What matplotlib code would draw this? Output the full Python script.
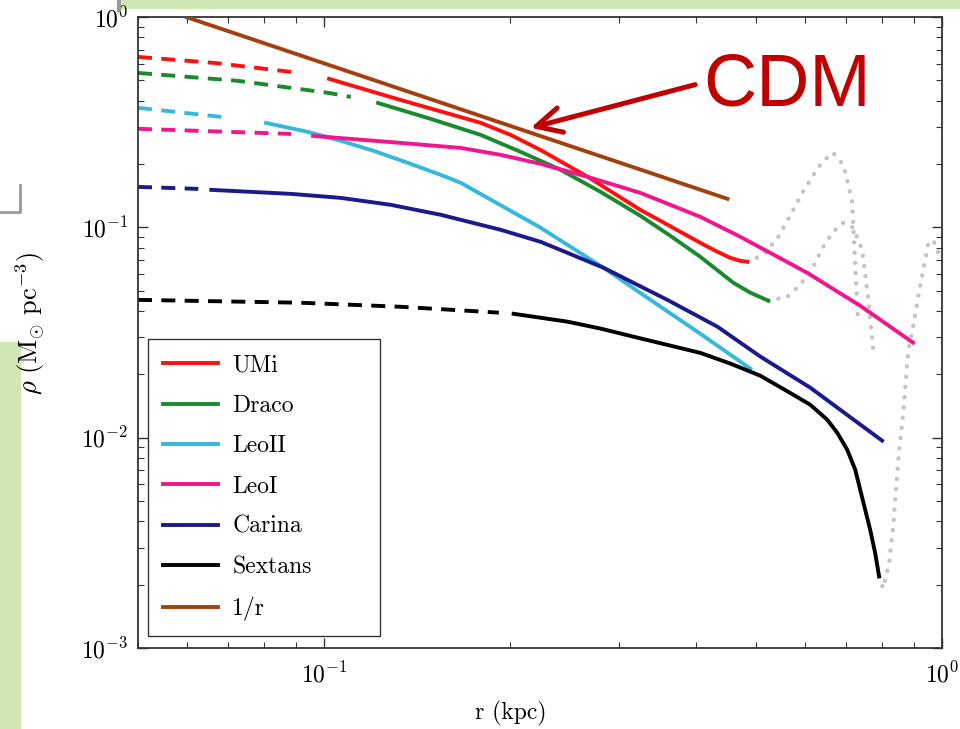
import matplotlib
matplotlib.use('Agg')
import matplotlib.pyplot as plt
from matplotlib.patches import Rectangle
from matplotlib.lines import Line2D
from matplotlib.ticker import NullFormatter

plt.rcParams['mathtext.fontset'] = 'cm'
plt.rcParams['font.family'] = ['cmr10', 'DejaVu Serif']
plt.rcParams['axes.formatter.use_mathtext'] = True

# --- dados (r em kpc, rho em Msun/pc^3) ---
umi_r_dash = [0.05, 0.0664, 0.0885]
umi_rho_dash = [0.646, 0.605, 0.548]
umi_r = [0.1019, 0.1331, 0.1793, 0.2005, 0.2242, 0.2670, 0.3251, 0.3503, 0.4064, 0.4300, 0.4545, 0.4718, 0.4842]
umi_rho = [0.508, 0.403, 0.314, 0.275, 0.233, 0.174, 0.121, 0.1074, 0.0844, 0.0773, 0.0716, 0.0693, 0.0686]

draco_r_dash = [0.05, 0.0726, 0.1015, 0.1105]
draco_rho_dash = [0.542, 0.497, 0.436, 0.417]
draco_r = [0.1223, 0.1489, 0.1793, 0.2081, 0.2415, 0.2803, 0.3251, 0.3635, 0.4064, 0.4596, 0.4896, 0.5235]
draco_rho = [0.390, 0.3276, 0.275, 0.2284, 0.1876, 0.1474, 0.1134, 0.0911, 0.0724, 0.0545, 0.0489, 0.0448]

leo2_r_dash = [0.05, 0.0682]
leo2_rho_dash = [0.370, 0.335]
leo2_r = [0.0806, 0.0942, 0.1065, 0.1204, 0.1367, 0.1545, 0.1665, 0.1840, 0.2242, 0.2834, 0.3375, 0.4064, 0.4896]
leo2_rho = [0.3136, 0.2842, 0.2576, 0.2309, 0.2025, 0.1776, 0.1627, 0.1380, 0.0995, 0.0642, 0.0452, 0.0312, 0.0213]

leo1_r_dash = [0.05, 0.0885]
leo1_rho_dash = [0.294, 0.278]
leo1_r = [0.0960, 0.1105, 0.1331, 0.1665, 0.1932, 0.2242, 0.2670, 0.3251, 0.4064, 0.4718, 0.5274, 0.6051, 0.7372, 0.8978]
leo1_rho = [0.272, 0.2633, 0.252, 0.2385, 0.2211, 0.2003, 0.1738, 0.1458, 0.1122, 0.0901, 0.0756, 0.0608, 0.0424, 0.0283]

carina_r_dash = [0.05, 0.0626]
carina_rho_dash = [0.1557, 0.1523]
carina_r = [0.0657, 0.0885, 0.1065, 0.1283, 0.1545, 0.1932, 0.2242, 0.2478, 0.2834, 0.3594, 0.4331, 0.5082, 0.6119, 0.6842, 0.8000]
carina_rho = [0.1507, 0.1442, 0.1380, 0.1279, 0.1147, 0.0973, 0.0853, 0.0756, 0.0642, 0.0452, 0.0337, 0.0243, 0.0173, 0.01358, 0.00968]

sext_r_dash = [0.05, 0.0918, 0.1331, 0.1918]
sext_rho_dash = [0.0452, 0.0438, 0.0419, 0.0393]
sext_r = [0.2027, 0.2478, 0.2803, 0.3168, 0.4064, 0.4545, 0.5082, 0.5746, 0.6119, 0.6519, 0.6767,
          0.7023, 0.7237, 0.7372, 0.7510, 0.7650, 0.7794, 0.7910]
sext_rho = [0.0388, 0.0356, 0.0330, 0.0302, 0.0253, 0.0225, 0.0197, 0.0160, 0.01435, 0.01218, 0.01056,
            0.00877, 0.00705, 0.00566, 0.00455, 0.00366, 0.00284, 0.00219]

cdm_r = [0.0598, 0.4496]
cdm_rho = [1.0, 0.1366]

# extrapolacoes cinzas (pontilhadas)
umi_ext_r = [0.4842, 0.5138, 0.5434, 0.5725, 0.5941, 0.6166, 0.6399, 0.6667, 0.6920, 0.7023, 0.7154, 0.7317]
umi_ext_rho = [0.0686, 0.0740, 0.0901, 0.1185, 0.1458, 0.1738, 0.2048, 0.2259, 0.1981, 0.1681, 0.1322, 0.0352]
draco_ext_r = [0.5235, 0.5618, 0.5897, 0.6188, 0.6424, 0.6667, 0.6920, 0.7180, 0.7428, 0.7594, 0.7735]
draco_ext_rho = [0.0448, 0.0467, 0.0533, 0.0649, 0.0808, 0.0952, 0.1051, 0.0995, 0.0781, 0.0462, 0.0268]
sext_ext_r = [0.7910, 0.8028, 0.8211, 0.8334, 0.8426, 0.8519, 0.8650, 0.8812, 0.8978, 0.9215, 0.9493, 0.9672, 0.9926]
sext_ext_rho = [0.00219, 0.00192, 0.00252, 0.00374, 0.00572, 0.00858, 0.01286, 0.0253, 0.0337, 0.0522, 0.0826, 0.0872, 0.0724]

names = ['UMi', 'Draco', 'LeoII', 'LeoI', 'Carina', 'Sextans']
colors = ['#ff1010', '#1b8a2e', '#35b8dc', '#f0168e', '#1c1a8a', '#000000']
cdm_color = '#a3400f'

fig = plt.figure(figsize=(9.6, 7.29), dpi=100)
fig.patch.set_facecolor('white')

# pedacos do slide por tras
green = '#d0e6b5'
fig.add_artist(Rectangle((0.127, 0.989), 0.873, 0.011, transform=fig.transFigure, color=green, zorder=0))
fig.add_artist(Rectangle((0.0, 0.0), 0.021, 0.531, transform=fig.transFigure, color=green, zorder=0))
fig.add_artist(Line2D([0.0, 0.021, 0.021], [0.709, 0.709, 0.746], transform=fig.transFigure, color='#999999', lw=2))
fig.add_artist(Line2D([0.124, 0.124], [0.986, 1.0], transform=fig.transFigure, color='#999999', lw=3))

ax = fig.add_axes([0.14375, 0.1111, 0.8375, 0.8656])

# Curvas cinzas
dot = (0, (0.01, 2.3))
for r, rho in [(umi_ext_r, umi_ext_rho), (draco_ext_r, draco_ext_rho), (sext_ext_r, sext_ext_rho)]:
    ax.plot(r, rho, color='#c4c4c4', lw=3.2, ls=dot, dash_capstyle='round', zorder=1)

dash = (0, (3.6, 2.4))
series = [(umi_r_dash, umi_rho_dash, umi_r, umi_rho),
          (draco_r_dash, draco_rho_dash, draco_r, draco_rho),
          (leo2_r_dash, leo2_rho_dash, leo2_r, leo2_rho),
          (leo1_r_dash, leo1_rho_dash, leo1_r, leo1_rho),
          (carina_r_dash, carina_rho_dash, carina_r, carina_rho),
          (sext_r_dash, sext_rho_dash, sext_r, sext_rho)]
for (rd, pd, r, p), name, c in zip(series, names, colors):
    ax.plot(rd, pd, color=c, lw=2.8, ls=dash, zorder=2)
    ax.plot(r, p, color=c, lw=2.8, label=name, zorder=3, solid_joinstyle='round')

ax.plot(cdm_r, cdm_rho, color=cdm_color, lw=2.8, label='1/r', zorder=3)

ax.set_xscale('log')
ax.set_yscale('log')
ax.set_xlim(0.05, 1.0)
ax.set_ylim(1e-3, 1.0)
ax.xaxis.set_minor_formatter(NullFormatter())
ax.yaxis.set_minor_formatter(NullFormatter())

ax.tick_params(which='both', direction='in', top=True, right=True, color='#333333')
ax.tick_params(which='major', length=7, width=1, labelsize=17)
ax.tick_params(which='minor', length=4, width=0.8)
ax.tick_params(axis='x', which='major', pad=10)
ax.tick_params(axis='y', which='major', pad=7)
for s in ax.spines.values():
    s.set_color('#333333')
    s.set_linewidth(1.3)

ax.set_xlabel('r (kpc)', fontsize=17)
ax.xaxis.set_label_coords(0.463, -0.084)
ax.set_ylabel(r'$\rho\ (\mathrm{M}_{\odot}\ \mathrm{pc}^{-3})$', fontsize=19)
ax.yaxis.set_label_coords(-0.113, 0.515)

# legenda com caixa mais larga, como no original
leg = ax.legend(loc='lower left', bbox_to_anchor=(0.0124, 0.019, 0.2886, 0.0), mode='expand',
                fontsize=17, fancybox=False, edgecolor='#333333',
                framealpha=1, handlelength=2.33, handletextpad=0.6, labelspacing=0.77,
                borderpad=0.64, borderaxespad=0.0)
leg.get_frame().set_linewidth(1.0)

# Anotacao CDM
ax.annotate('CDM', xy=(0.216, 0.297), xytext=(0.411, 0.47), textcoords='data',
            fontsize=53, family='Liberation Sans', color='#c00000', ha='left', va='center',
            arrowprops=dict(arrowstyle='->,head_length=0.9,head_width=0.45', color='#c00000',
                            lw=3.6, mutation_scale=20, relpos=(0, 0.55), shrinkA=4, shrinkB=0),
            zorder=5)

fig.savefig('out.png', dpi=100)
